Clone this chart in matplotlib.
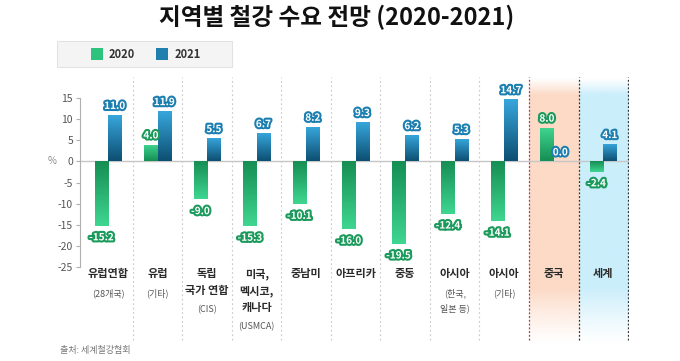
import matplotlib
matplotlib.use("Agg")
import matplotlib.pyplot as plt
import numpy as np
from matplotlib import patheffects as pe
from matplotlib.colors import to_rgb
from matplotlib.patches import Rectangle

plt.rcParams['font.family'] = ['Noto Sans CJK KR', 'DejaVu Sans']
plt.rcParams['axes.unicode_minus'] = False

# ---------------- data ----------------
category_labels = ["유럽연합", "유럽", "독립\n국가 연합", "미국,\n멕시코,\n캐나다", "중남미",
                   "아프리카", "중동", "아시아", "아시아", "중국", "세계"]
sub_labels = ["(28개국)", "(기타)", "(CIS)", "(USMCA)", "", "", "", "(한국,\n일본 등)", "(기타)", "", ""]
series_names = ["2020", "2021"]
values_2020 = [-15.2, 4.0, -9.0, -15.3, -10.1, -16.0, -19.5, -12.4, -14.1, 8.0, -2.4]
values_2021 = [11.0, 11.9, 5.5, 6.7, 8.2, 9.3, 6.2, 5.3, 14.7, 0.0, 4.1]
y_ticks = [-25, -20, -15, -10, -5, 0, 5, 10, 15]

title = "지역별 철강 수요 전망 (2020-2021)"
source = "출처: 세계철강협회"

# ---------------- style ----------------
W, H = 680, 361
green_base, green_tip = "#168e54", "#3fd690"
blue_base, blue_tip = "#0d4f72", "#38a8de"
green_lab, blue_lab = "#1b9a5c", "#1d7fb0"

fig = plt.figure(figsize=(W / 100, H / 100), dpi=100)
fig.patch.set_facecolor("white")
ax = fig.add_axes([80 / W, 1 - 345 / H, (629 - 80) / W, (345 - 77) / H])
YMIN, YMAX = -43.5, 20.0
XMIN, XMAX = -0.57, 10.52

n = len(category_labels)
x = np.arange(n)
bw = 0.27

# shaded columns (China / World)
def shade(x0, x1, color):
    ys = np.linspace(YMIN, YMAX, 200)
    alpha = np.ones_like(ys)
    alpha = np.where(ys > 16, np.clip((YMAX - ys) / (YMAX - 16), 0, 1), alpha)
    alpha = np.where(ys < -30, np.clip((ys - YMIN) / (-30 - YMIN), 0, 1), alpha)
    rgb = np.array(to_rgb(color))
    img = np.zeros((len(ys), 2, 4))
    img[..., :3] = rgb
    img[..., 3] = alpha[:, None] ** 1.2
    ax.imshow(img, extent=[x0, x1, YMIN, YMAX], origin="lower", aspect="auto",
              zorder=0, interpolation="bilinear")

shade(8.5, 9.5, "#fcdac6")
shade(9.5, 10.5, "#cbeefb")

# separators
for i in range(n):
    xs = i + 0.5
    if i < 8:
        ax.vlines(xs, -42.3, YMAX, colors="#c8c8c8", linestyles=(0, (1.5, 2.5)), lw=0.8, zorder=1)
    elif i == 8:
        ax.vlines(xs, -42.3, YMAX, colors="#b03a48", linestyles=(0, (1.5, 1.5)), lw=0.9, zorder=1)
    else:
        ax.vlines(xs, -42.3, YMAX, colors="#333333", linestyles=(0, (1.5, 1.5)), lw=0.9, zorder=1)

ax.axhline(0, color="#c6c6c6", lw=1.0, zorder=2)

# bars with gradients
def gradient_bars(xpos, vals, base, tip):
    bars = ax.bar(xpos, vals, width=bw, color="none", edgecolor="none", zorder=3)
    b = np.array(to_rgb(base)); t_ = np.array(to_rgb(tip))
    for rect, v in zip(bars, vals):
        if v == 0:
            continue
        t = np.linspace(0, 1, 64)[:, None]
        cols = b * (1 - t) + t_ * t
        if v < 0:
            cols = cols[::-1]
        img = cols[:, None, :]
        x0 = rect.get_x(); x1 = x0 + rect.get_width()
        y0 = min(0, v); y1 = max(0, v)
        im = ax.imshow(img, extent=[x0, x1, y0, y1], origin="lower", aspect="auto",
                       zorder=3, interpolation="bilinear")
        im.set_clip_path(rect)
    return bars

gradient_bars(x - bw / 2, values_2020, green_base, green_tip)
gradient_bars(x + bw / 2, values_2021, blue_base, blue_tip)

# value labels
def value_labels(xpos, vals, color):
    for xi, v in zip(xpos, vals):
        off = 6.5 if v >= 0 else -8.5
        ax.annotate(f"{v:.1f}", xy=(xi, v), xytext=(0, off), textcoords="offset points",
                    ha="center", va="center", fontsize=7.2, fontweight="bold", color="white",
                    zorder=6, annotation_clip=False,
                    path_effects=[pe.Stroke(linewidth=3.0, foreground=color), pe.Normal()])

value_labels(x - bw / 2, values_2020, green_lab)
value_labels(x + bw / 2, values_2021, blue_lab)

# axes styling
ax.set_xlim(XMIN, XMAX)
ax.set_ylim(YMIN, YMAX)
for s in ["top", "right", "bottom"]:
    ax.spines[s].set_visible(False)
ax.spines["left"].set_bounds(-25, 15)
ax.spines["left"].set_color("#b0b0b0")
ax.spines["left"].set_linewidth(0.8)
ax.set_xticks([])
ax.set_yticks(y_ticks)
ax.set_yticklabels([str(v) for v in y_ticks])
ax.tick_params(axis="y", length=3, width=0.8, color="#b0b0b0", labelsize=7.5,
               labelcolor="#555555", pad=2)

# category labels (offsets in pixels below the -25 level)
px2pt = 0.72
MAIN_START, MAIN_STEP, SUB_GAP, SUB_STEP = 7, 17, 19, 15
for i, (main, sub) in enumerate(zip(category_labels, sub_labels)):
    ypx = MAIN_START
    for k, line in enumerate(main.split("\n")):
        ypx = MAIN_START + k * MAIN_STEP
        ax.annotate(line, xy=(i, -25), xytext=(0, -ypx * px2pt), textcoords="offset points",
                    ha="center", va="center", fontsize=8, fontweight="bold", color="#2a2a2a",
                    annotation_clip=False)
    if sub:
        ypx += SUB_GAP
        for line in sub.split("\n"):
            ax.annotate(line, xy=(i, -25), xytext=(0, -ypx * px2pt), textcoords="offset points",
                        ha="center", va="center", fontsize=6.5, color="#555555",
                        annotation_clip=False)
            ypx += SUB_STEP

# legend (drawn in figure pixels)
fig.patches.append(Rectangle((57 / W, 1 - 67 / H), 175 / W, 26 / H, transform=fig.transFigure,
                             facecolor="#f4f4f4", edgecolor="#e2e2e2", lw=0.8))
for (sx, tx, col, name) in [(91, 109, "#2cc47c", series_names[0]),
                             (156, 175, "#1f7fae", series_names[1])]:
    fig.patches.append(Rectangle((sx / W, 1 - 60 / H), 12 / W, 12 / H, transform=fig.transFigure,
                                 facecolor=col, edgecolor="none"))
    fig.text(tx / W, 1 - 54 / H, name, fontsize=8, color="#333333", va="center", ha="left",
             fontweight="bold")

fig.text(337 / W, 1 - 17 / H, title, ha="center", va="center", fontsize=17,
         fontweight="bold", color="#111111")
fig.text(52 / W, 1 - 161 / H, "%", ha="center", va="center", fontsize=7, color="#888888")
fig.text(60 / W, 1 - 350 / H, source, ha="left", va="center", fontsize=6.5, color="#777777")

fig.savefig("out.png", dpi=100, facecolor="white")
